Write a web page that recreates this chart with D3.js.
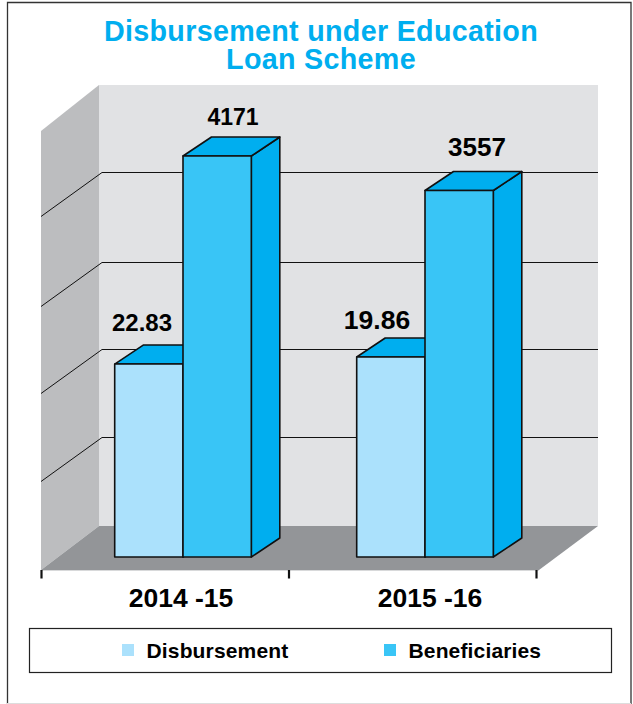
<!DOCTYPE html>
<html><head><meta charset="utf-8">
<script src="https://cdn.jsdelivr.net/npm/d3@7"></script>
<style>html,body{margin:0;padding:0;background:#fff}svg{display:block}text{font-family:"Liberation Sans",Arial,sans-serif;font-weight:700}</style>
</head><body><svg id="c" width="633" height="704"></svg>
<script>
const titleLines = ["Disbursement under Education", "Loan Scheme"];
const categories = ["2014 -15", "2015 -16"];
const seriesNames = ["Disbursement", "Beneficiaries"];
const disbursementLabels = ["22.83", "19.86"];
const beneficiariesLabels = ["4171", "3557"];
// drawn heights, in the units of the first beneficiaries bar
const disbursementHeights = [2007, 2080];
const beneficiariesHeights = [4171, 3812];
const gridValues = [926, 1841, 2746, 3682];

const svg = d3.select("#c");
const C = {title:"#00aeef", front:"#39c5f6", light:"#abe1fc", dark:"#00aeef", wall:"#e1e2e4", side:"#bcbdbf", floor:"#939598", line:"#111"};

const y = d3.scaleLinear().domain([0, 4171]).range([557, 156]);
const xGroup = d3.scaleBand().domain(categories).range([114.7, 598.7]).paddingInner(0).paddingOuter(0);
const xBar = d3.scaleBand().domain(seriesNames).range([0, 136.6]);
const xTick = d3.scalePoint().domain(d3.range(categories.length + 1)).range([41.5, 536.5]);
const barDepth = {dx: 28.5, dy: -19};
const wall = {x0: 41, x1: 99, x2: 598, x3: 539, top: 85, back: 526, front: 570};
const toWall = v => Math.round(wall.back - (557 - y(v))) + 0.5;   // grid value on the back wall
const poly = pts => pts.map(p => p.join(",")).join(" ");

// frame
svg.append("path").attr("d","M7.5,704V2.5H631V704").attr("fill","none").attr("stroke","#333").attr("stroke-width",1.3);
svg.append("line").attr("x1",7).attr("x2",631).attr("y1",703.5).attr("y2",703.5).attr("stroke","#ddd");

// title
svg.append("text").attr("class","title").attr("text-anchor","middle")
  .attr("font-size",28.7).attr("fill",C.title).attr("letter-spacing",0.3)
  .selectAll("tspan").data(titleLines).join("tspan")
  .attr("x",321).attr("y",(d,i)=>41+i*28).text(d=>d);

// walls
svg.append("polygon").attr("points",poly([[wall.x1,wall.top],[wall.x2,wall.top],[wall.x2,wall.back],[wall.x1,wall.back]])).attr("fill",C.wall);
svg.append("polygon").attr("points",poly([[wall.x0,131],[wall.x1,wall.top],[wall.x1,wall.back],[wall.x0,wall.front]])).attr("fill",C.side);
svg.append("polygon").attr("points",poly([[wall.x0,wall.front],[wall.x1,wall.back],[wall.x2,wall.back],[wall.x3,wall.front]])).attr("fill",C.floor);
svg.append("line").attr("x1",wall.x0).attr("x2",wall.x3).attr("y1",wall.front+0.5).attr("y2",wall.front+0.5).attr("stroke","#d8d9da");

// gridlines
svg.selectAll("polyline.grid").data(gridValues).join("polyline").attr("class","grid")
  .attr("fill","none").attr("stroke",C.line).attr("stroke-width",1)
  .attr("points",v=>poly([[wall.x0,toWall(v)+44],[wall.x1+3,toWall(v)],[wall.x2,toWall(v)]]));

// bars
function bar(cat, series, h, frontColor) {
  const x0 = xGroup(cat) + xBar(series), x1 = x0 + xBar.bandwidth();
  const t = y(h), b = y(0), {dx, dy} = barDepth;
  const g = svg.append("g").attr("stroke",C.line).attr("stroke-width",1.6).attr("stroke-linejoin","round");
  g.append("polygon").attr("fill",C.dark).attr("points",poly([[x1,t],[x1+dx,t+dy],[x1+dx,b+dy],[x1,b]]));
  g.append("polygon").attr("fill",C.dark).attr("points",poly([[x0,t],[x0+dx,t+dy],[x1+dx,t+dy],[x1,t]]));
  g.append("rect").attr("fill",frontColor).attr("x",x0).attr("y",t).attr("width",x1-x0).attr("height",b-t);
}
categories.forEach((c,i)=>{
  bar(c, seriesNames[0], disbursementHeights[i], C.light);
  bar(c, seriesNames[1], beneficiariesHeights[i], C.front);
});

// value labels
const lblD = [{dx:27.3,dy:-33,fs:24},{dx:20.3,dy:-28,fs:26.5}];
const lblB = [{dx:50,dy:-31,fs:23},{dx:52,dy:-35,fs:26}];
categories.forEach((c,i)=>{
  svg.append("text").attr("x",xGroup(c)+lblD[i].dx).attr("y",y(disbursementHeights[i])+lblD[i].dy)
    .attr("text-anchor","middle").attr("font-size",lblD[i].fs).attr("fill","#000").text(disbursementLabels[i]);
  svg.append("text").attr("x",xGroup(c)+xBar(seriesNames[1])+lblB[i].dx).attr("y",y(beneficiariesHeights[i])+lblB[i].dy)
    .attr("text-anchor","middle").attr("font-size",lblB[i].fs).attr("fill","#000").text(beneficiariesLabels[i]);
});

// category axis
svg.selectAll("line.tick").data(xTick.domain()).join("line").attr("class","tick")
  .attr("x1",d=>xTick(d)).attr("x2",d=>xTick(d)).attr("y1",570).attr("y2",578.5)
  .attr("stroke","#111").attr("stroke-width",2.2);
const catDx = [66.3, 73.3];
svg.selectAll("text.cat").data(categories).join("text").attr("class","cat")
  .attr("x",(d,i)=>xGroup(d)+catDx[i]).attr("y",607).attr("text-anchor","middle")
  .attr("font-size",26.5).attr("fill","#000").text(d=>d);

// legend
svg.append("rect").attr("x",29.5).attr("y",628.5).attr("width",582).attr("height",44).attr("fill","#fff").attr("stroke","#222").attr("stroke-width",1.2);
const legendX = d3.scaleOrdinal().domain(seriesNames).range([122,384]);
const legendColor = d3.scaleOrdinal().domain(seriesNames).range([C.light,C.front]);
seriesNames.forEach(s=>{
  svg.append("rect").attr("x",legendX(s)).attr("y",644).attr("width",12).attr("height",12).attr("fill",legendColor(s));
  svg.append("text").attr("x",legendX(s)+24.5).attr("y",658).attr("font-size",21).attr("letter-spacing",0.15).attr("fill","#000").text(s);
});
</script></body></html>
